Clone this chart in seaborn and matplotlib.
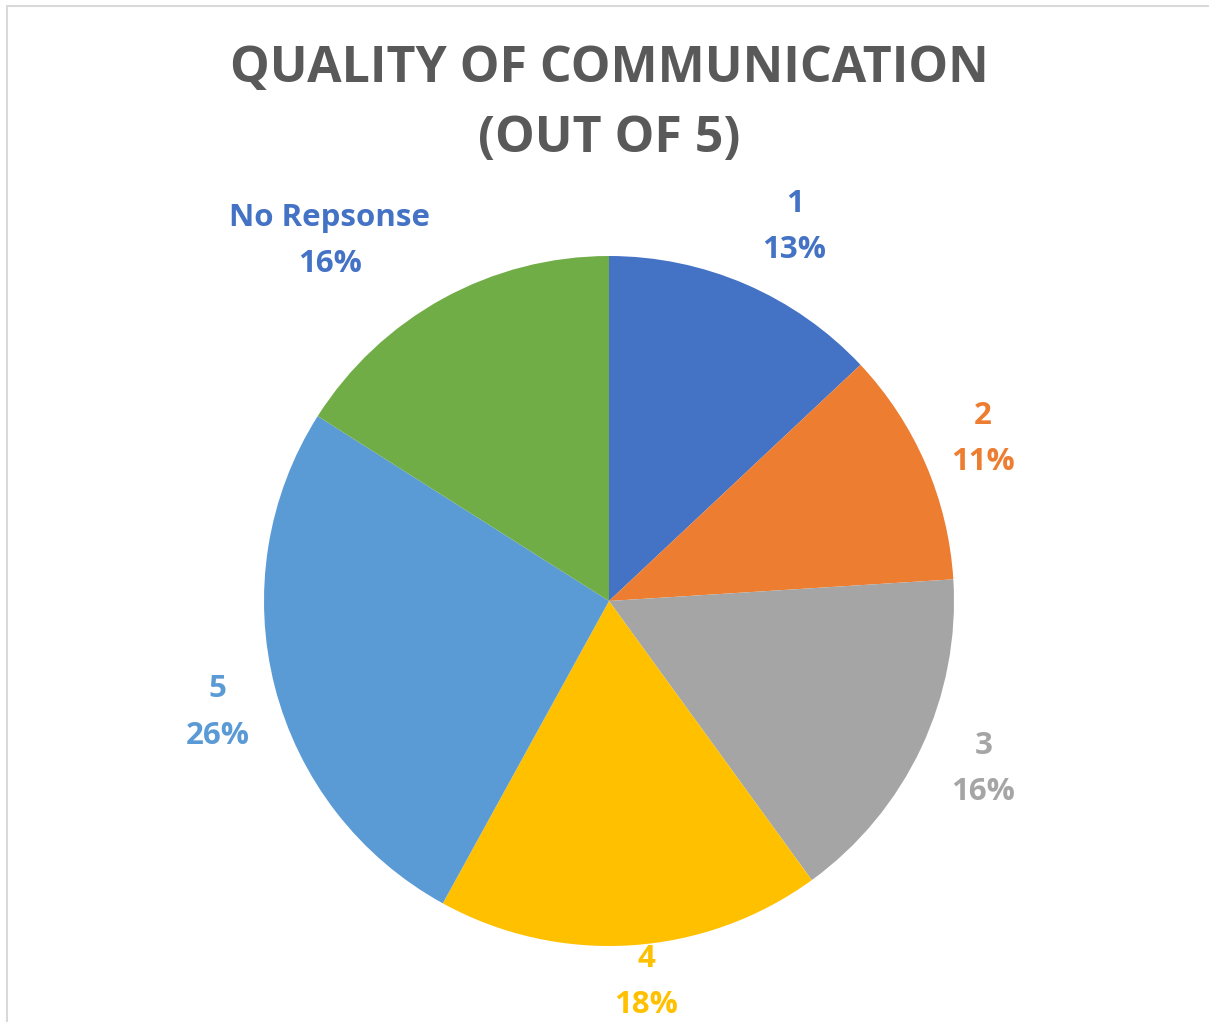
import numpy as np
import matplotlib.pyplot as plt
import seaborn as sns
from matplotlib.lines import Line2D

sns.set_theme(style="white")
plt.rcParams['font.family'] = ['Open Sans', 'DejaVu Sans']

# data
categories = ["1", "2", "3", "4", "5", "No Repsonse"]
shares = [13, 11, 16, 18, 26, 16]
slice_colors = ["#4472C4", "#ED7D31", "#A5A5A5", "#FFC000", "#5B9BD5", "#70AD47"]
label_colors = ["#4472C4", "#ED7D31", "#A5A5A5", "#FFC000", "#5B9BD5", "#4472C4"]
title = "QUALITY OF COMMUNICATION\n(OUT OF 5)"

# radial distance of each label (Excel best-fit placement)
label_dist = [1.21, 1.18, 1.19, 1.11, 1.18, 1.32]
label_shift = [-3, 0, 1, 2, 1.5, 9]  # degrees nudged

fig = plt.figure(figsize=(12.09, 10.22), dpi=100)
R_PX = 345
L = 1.45
side = 2 * L * R_PX
ax = fig.add_axes([(609 - side / 2) / 1209, (421 - side / 2) / 1022, side / 1209, side / 1022])

wedges, _ = ax.pie(shares, colors=slice_colors, startangle=90, counterclock=False,
                   radius=1.0, wedgeprops=dict(linewidth=0))
ax.set_xlim(-L, L)
ax.set_ylim(-L, L)
ax.set_aspect("equal")
ax.axis("off")

for w, cat, val, col, d, s in zip(wedges, categories, shares, label_colors, label_dist, label_shift):
    ang = np.deg2rad((w.theta1 + w.theta2) / 2 + s)
    ax.text(d * np.cos(ang), d * np.sin(ang), f"{cat}\n{val}%", color=col,
            ha="center", va="center", fontsize=22.5, fontweight="bold",
            linespacing=1.7, clip_on=False)

fig.text(609 / 1209, 1 - 104 / 1022, title, ha="center", va="center",
         fontsize=36, fontweight="bold", color="#595959", linespacing=1.55)

# chart area border (top and left visible)
fig.add_artist(Line2D([6.5 / 1209, 6.5 / 1209], [0, 1 - 6.5 / 1022], transform=fig.transFigure,
                      color="#D9D9D9", linewidth=1.5))
fig.add_artist(Line2D([6.5 / 1209, 1], [1 - 6.5 / 1022, 1 - 6.5 / 1022], transform=fig.transFigure,
                      color="#D9D9D9", linewidth=1.5))

fig.savefig("out.png", dpi=100, facecolor="white")
